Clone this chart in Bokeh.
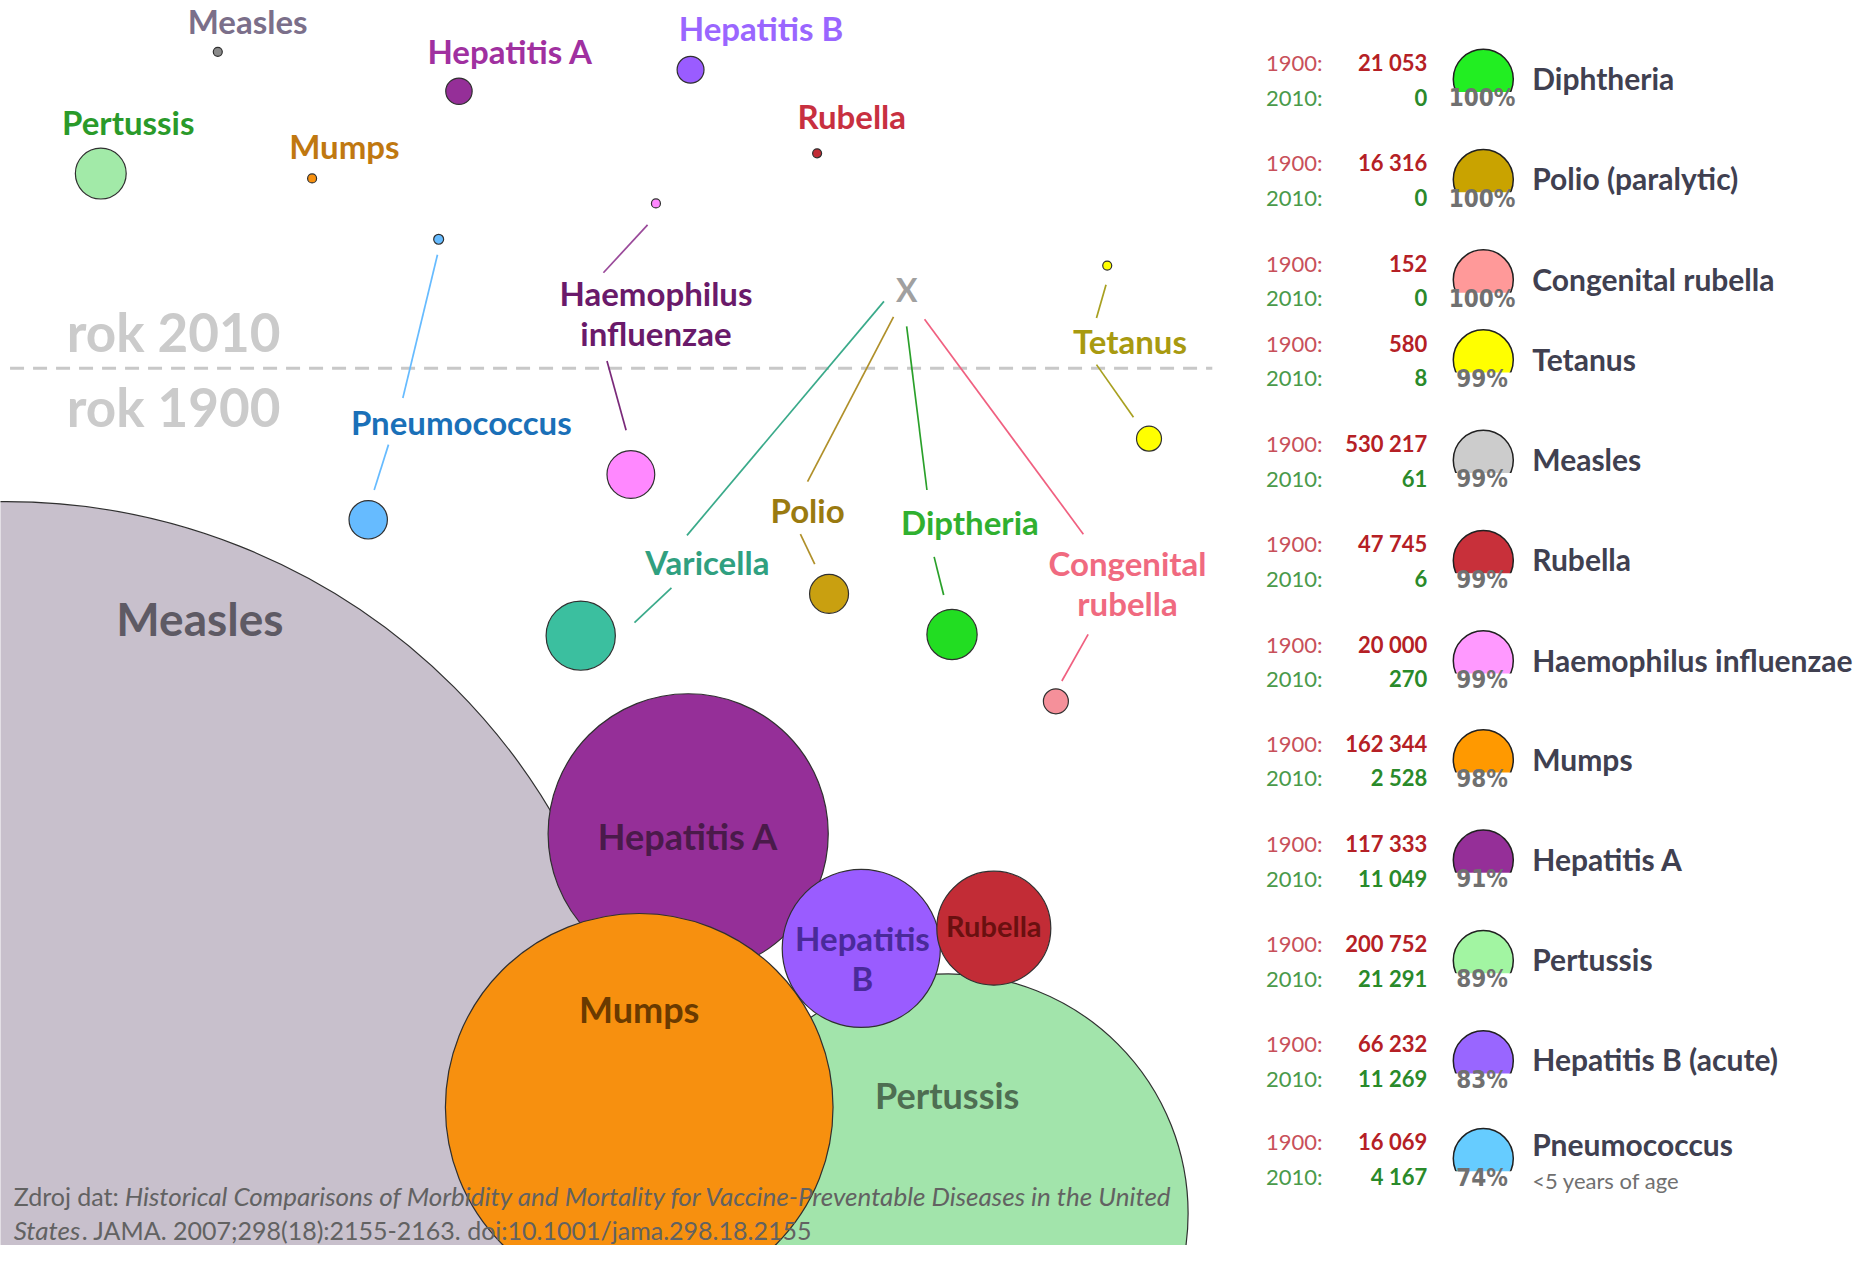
from bokeh.plotting import figure
from bokeh.models import Range1d, ColumnDataSource
from bokeh.core.properties import value
from bokeh.embed import file_html
from bokeh.resources import INLINE

# ---------------- data ----------------
diseases = ["Diphtheria", "Polio (paralytic)", "Congenital rubella", "Tetanus",
            "Measles", "Rubella", "Haemophilus influenzae", "Mumps",
            "Hepatitis A", "Pertussis", "Hepatitis B (acute)", "Pneumococcus"]
cases_1900 = [21053, 16316, 152, 580, 530217, 47745, 20000, 162344,
              117333, 200752, 66232, 16069]
cases_2010 = [0, 0, 0, 8, 61, 6, 270, 2528, 11049, 21291, 11269, 4167]
reduction_pct = ["100%", "100%", "100%", "99%", "99%", "99%", "99%", "98%",
                 "91%", "89%", "83%", "74%"]
varicella_1900 = 29000  # (no table row)
year_labels = ["1900:", "2010:"]
pneumo_note = "<5 years of age"

# ---------------- styles / layout ----------------
S = 1872 / 1568          # layout below is given in a 1568-wide frame
K = 0.001 * S            # bubble radius (px) per case
FONT = "Lato"
NARROW = "Liberation Sans Narrow, DejaVu Sans Condensed, Roboto Condensed, Roboto"
idx = {n: i for i, n in enumerate(diseases)}

icon_colors = ["#22ee22", "#c9a300", "#ff9999", "#ffff00", "#cccccc", "#c8303a",
               "#ff99ff", "#ff9900", "#952f98", "#a2f5a2", "#9966ff", "#66ccff"]

W, H = 1856, 1245
p = figure(width=W, height=H, x_range=Range1d(0, W), y_range=Range1d(H, 0),
           output_backend="svg", toolbar_location=None, min_border=0,
           x_axis_location=None, y_axis_location=None, outline_line_color=None,
           background_fill_color="white", border_fill_color="white")
p.grid.visible = False


def txt(items, size, style="bold", font=FONT, align="center", baseline="middle",
        lh=1.2):
    xs = [it[1] * S for it in items]
    ys = [it[2] * S for it in items]
    src = ColumnDataSource(dict(x=xs, y=ys, t=[it[0] for it in items],
                                c=[it[3] for it in items]))
    p.text(x="x", y="y", text="t", text_color="c", source=src,
           text_font=value(font), text_font_size=f"{size}px",
           text_font_style=style, text_align=align, text_baseline=baseline,
           text_line_height=lh)


def bubbles(items, floor):
    # items: (value, cx, cy, fill)
    src = ColumnDataSource(dict(
        x=[it[1] * S for it in items], y=[it[2] * S for it in items],
        r=[max(it[0] * K, floor) for it in items], f=[it[3] for it in items]))
    p.circle(x="x", y="y", radius="r", fill_color="f", line_color="#303030",
             line_width=1.2, source=src)


def v19(n): return cases_1900[idx[n]]
def v20(n): return cases_2010[idx[n]]


# ---- big 1900 bubbles ----
bubbles([(v19("Measles"), 5, 950, "#c8c0cc")], 0)
bubbles([(v19("Hepatitis A"), 576, 698, "#952f98")], 0)
bubbles([(v19("Pertussis"), 794, 1016, "#a2e4ab")], 0)
bubbles([(v19("Mumps"), 535, 927, "#f7900f")], 0)
bubbles([(v19("Hepatitis B (acute)"), 721, 794, "#9a5cff")], 0)
bubbles([(v19("Rubella"), 832, 777, "#c22c36")], 0)

# ---- divider ----
p.segment(x0=[8 * S], y0=[308 * S], x1=[1015 * S], y1=[308 * S], line_color="#c8c8c8",
          line_width=3, line_dash="14 9")

# ---- leader lines ----
leaders = [
    ((542, 188), (505, 228), "#9a4a9a"), ((508, 302), (524, 360), "#7a2a7a"),
    ((366, 213), (337, 333), "#66bbff"), ((325, 372), (313, 410), "#66bbff"),
    ((740, 252), (575, 448), "#3aaa8a"), ((562, 492), (531, 521), "#3aaa8a"),
    ((748, 265), (676, 403), "#b0902a"), ((670, 447), (682, 472), "#b0902a"),
    ((759, 273), (776, 410), "#2aa02a"), ((782, 466), (790, 498), "#2aa02a"),
    ((774, 267), (907, 447), "#f06080"), ((911, 531), (889, 570), "#f06080"),
    ((926, 238), (918, 266), "#a8a020"), ((918, 305), (949, 349), "#a8a020"),
]
p.segment(x0=[a[0] * S for a, b, c in leaders], y0=[a[1] * S for a, b, c in leaders],
          x1=[b[0] * S for a, b, c in leaders], y1=[b[1] * S for a, b, c in leaders],
          line_color=[c for a, b, c in leaders], line_width=1.7)

# ---- small 1900 bubbles ----
bubbles([(v19("Haemophilus influenzae"), 528, 397, "#ff88ff"),
         (v19("Pneumococcus"), 308, 435, "#66bbff"),
         (varicella_1900, 486, 532, "#3bbf9f"),
         (v19("Polio (paralytic)"), 694, 497, "#c9a010"),
         (v19("Diphtheria"), 797, 531, "#22dd22"),
         (v19("Congenital rubella"), 884, 587, "#f5909a"),
         (v19("Tetanus"), 962, 367, "#ffff00")], 12.5)

# ---- 2010 bubbles ----
bubbles([(v20("Measles"), 182, 43, "#8a8a8a"),
         (v20("Hepatitis A"), 384, 76, "#952f98"),
         (v20("Hepatitis B (acute)"), 578, 58, "#9a5cff"),
         (v20("Pertussis"), 84, 145, "#a2eaa8"),
         (v20("Mumps"), 261, 149, "#f7900f"),
         (v20("Rubella"), 684, 128, "#c22c36"),
         (v20("Haemophilus influenzae"), 549, 170, "#ff88ff"),
         (v20("Pneumococcus"), 367, 200, "#66bbff"),
         (v20("Tetanus"), 927, 222, "#ffff00")], 4.5)

# ---- year captions ----
txt([("rok 2010", 145, 277, "#cbcbcb"), ("rok 1900", 145, 340, "#cbcbcb")], 53)

# ---- bubble labels ----
txt([("Measles", 207, 17, "#7b6f8a"), ("Hepatitis A", 427, 42, "#a030a0"),
     ("Hepatitis B", 637, 23, "#9a66ff"), ("Pertussis", 107, 102, "#2a9a2a"),
     ("Mumps", 288, 122, "#c07810"), ("Rubella", 713, 97, "#c83040"),
     ("Haemophilus\ninfluenzae", 549, 262, "#6a1a6a"),
     ("Pneumococcus", 386, 353, "#1a70b8"), ("Tetanus", 946, 285, "#a89a10"),
     ("Varicella", 592, 470, "#30a080"), ("Polio", 676, 427, "#9a7a10"),
     ("Diptheria", 812, 437, "#30b030"),
     ("Congenital\nrubella", 944, 488, "#f06a80")], 33, lh=1.0)
txt([("X", 759, 242, "#a0a0a0")], 32)

txt([("Measles", 167, 518, "#5e5a64")], 46)
txt([("Hepatitis A", 576, 700, "#4a1a4a"), ("Mumps", 535, 845, "#6a3a00"),
     ("Pertussis", 793, 917, "#4e6e52")], 36)
txt([("Hepatitis\nB", 722, 802, "#4a2a9a")], 33, lh=1.0)
txt([("Rubella", 832, 775, "#6a1010")], 29)

# ---- table ----
row_y = [52, 136, 220, 287, 371, 455, 539, 622, 706, 790, 874, 956]
fmt = lambda v: f"{v:,}".replace(",", " ")
txt([(year_labels[0], 1060, y, "#c8505a") for y in row_y] +
    [(year_labels[1], 1060, y + 29, "#4a9a4a") for y in row_y], 22,
    style="normal", align="left")
txt([(fmt(v), 1195, y, "#b52025") for v, y in zip(cases_1900, row_y)] +
    [(fmt(v), 1195, y + 29, "#2a8a2a") for v, y in zip(cases_2010, row_y)], 22,
    align="right")

# icons
src = ColumnDataSource(dict(x=[1242 * S] * len(row_y), y=[(y + 14) * S for y in row_y],
                            f=icon_colors))
p.circle(x="x", y="y", radius=30, fill_color="f", line_color="#202020",
         line_width=1.5, source=src)
p.rect(x=[1242 * S] * len(row_y), y=[(y + 36) * S for y in row_y], width=60,
       height=27, fill_color="white", line_color=None)
txt([(pc, 1241, y + 30, "#707070") for pc, y in zip(reduction_pct, row_y)], 24,
    font=NARROW)

name_items = []
for n, y in zip(diseases, row_y):
    dy = 2 if n == "Pneumococcus" else 13
    name_items.append((n, 1283, y + dy, "#404050"))
txt(name_items, 30, align="left")
txt([(pneumo_note, 1283, row_y[-1] + 32, "#707070")], 22, style="normal", align="left")

# ---- citation ----
txt([("Zdroj dat:", 11, 1001, "#626262"),
     (". JAMA. 2007;298(18):2155-2163. doi:10.1001/jama.298.18.2155", 68, 1030, "#626262")],
    25, style="normal", align="left")
txt([("Historical Comparisons of Morbidity and Mortality for Vaccine-Preventable Diseases in the United",
      104, 1001, "#626262"), ("States", 11, 1030, "#626262")],
    26, style="italic", align="left")

open("out.html", "w").write(file_html(p, INLINE))
